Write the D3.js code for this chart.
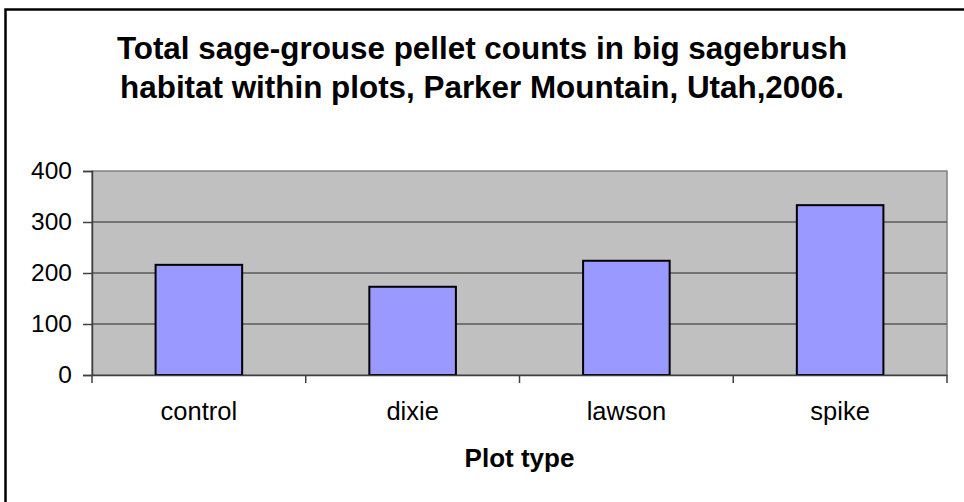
<!DOCTYPE html>
<html>
<head>
<meta charset="utf-8">
<script src="https://cdn.jsdelivr.net/npm/d3@7"></script>
<style>
  body { margin: 0; background: #fff; }
  svg text { font-family: Arial, "Liberation Sans", sans-serif; fill: #000; }
</style>
</head>
<body>
<div id="chart"></div>
<script>
// chart data
var categories = ['control', 'dixie', 'lawson', 'spike']
  , counts = [216, 173, 224, 333]
  , yTicks = [0, 100, 200, 300, 400]
  , titleLines = ['Total sage-grouse pellet counts in big sagebrush',
                  'habitat within plots, Parker Mountain, Utah,2006.']
  , xTitle = 'Plot type'

var width = 964, height = 502
  , plot = { left: 92, top: 171, right: 947, bottom: 375 }

var svg = d3.select('#chart').append('svg')
  .attr('width', width)
  .attr('height', height)

// outer chart border (runs off the right and bottom of the picture)
svg.append('rect')
  .attr('x', 5.5).attr('y', 9.5)
  .attr('width', width + 20).attr('height', height + 20)
  .attr('fill', '#fff')
  .attr('stroke', '#000')
  .attr('stroke-width', 2.5)

var x = d3.scaleBand()
  .domain(categories)
  .range([plot.left, plot.right])
  .paddingInner(0.595)
  .paddingOuter(0.2975)

var y = d3.scaleLinear()
  .domain([0, 400])
  .range([plot.bottom, plot.top])

// plot area
svg.append('rect')
  .attr('x', plot.left).attr('y', plot.top)
  .attr('width', plot.right - plot.left)
  .attr('height', plot.bottom - plot.top)
  .attr('fill', '#c0c0c0')
  .attr('stroke', '#808080')
  .attr('stroke-width', 1.5)

// gridlines
svg.selectAll('line.grid').data(yTicks.slice(1, -1)).enter().append('line')
  .attr('class', 'grid')
  .attr('x1', plot.left).attr('x2', plot.right)
  .attr('y1', function(d) { return y(d) })
  .attr('y2', function(d) { return y(d) })
  .attr('stroke', '#5a5a5a')
  .attr('stroke-width', 1.5)

// bars
svg.selectAll('rect.bar').data(counts).enter().append('rect')
  .attr('class', 'bar')
  .attr('x', function(d, i) { return x(categories[i]) })
  .attr('y', function(d) { return y(d) })
  .attr('width', x.bandwidth())
  .attr('height', function(d) { return y(0) - y(d) })
  .attr('fill', '#9999ff')
  .attr('stroke', '#000')
  .attr('stroke-width', 2)

// y axis
var yAxis = svg.append('g')
  .attr('transform', 'translate(' + plot.left + ',0)')
  .call(d3.axisLeft(y).tickValues(yTicks).tickSize(9).tickPadding(11))
yAxis.select('.domain').attr('stroke', '#404040').attr('stroke-width', 1.5)
yAxis.selectAll('.tick line').attr('stroke', '#404040').attr('stroke-width', 1.5)
yAxis.selectAll('.tick text').attr('font-size', 24.5).attr('font-family', null)

// x axis: ticks sit on the category boundaries
var xAxis = svg.append('g')
  .attr('transform', 'translate(0,' + plot.bottom + ')')
  .call(d3.axisBottom(x).tickSize(0).tickPadding(0).tickSizeOuter(0))
xAxis.select('.domain').attr('stroke', '#404040').attr('stroke-width', 1.5)
xAxis.selectAll('.tick text')
  .attr('font-size', 25.5).attr('font-family', null)
  .attr('dy', null).attr('y', 45)

var bounds = categories.map(function(c) { return x(c) - x.step() * x.paddingInner() / 2 })
bounds.push(plot.right)
xAxis.selectAll('line.bound').data(bounds).enter().append('line')
  .attr('class', 'bound')
  .attr('x1', function(d) { return d }).attr('x2', function(d) { return d })
  .attr('y1', 0).attr('y2', 8)
  .attr('stroke', '#404040')
  .attr('stroke-width', 1.5)

// x axis title
svg.append('text')
  .attr('x', (plot.left + plot.right) / 2)
  .attr('y', 467)
  .attr('text-anchor', 'middle')
  .attr('font-size', 26)
  .attr('font-weight', 'bold')
  .text(xTitle)

// chart title
svg.selectAll('text.title').data(titleLines).enter().append('text')
  .attr('class', 'title')
  .attr('x', 482)
  .attr('y', function(d, i) { return 59 + i * 39 })
  .attr('text-anchor', 'middle')
  .attr('font-size', 31.4)
  .attr('font-weight', 'bold')
  .text(function(d) { return d })
</script>
</body>
</html>
